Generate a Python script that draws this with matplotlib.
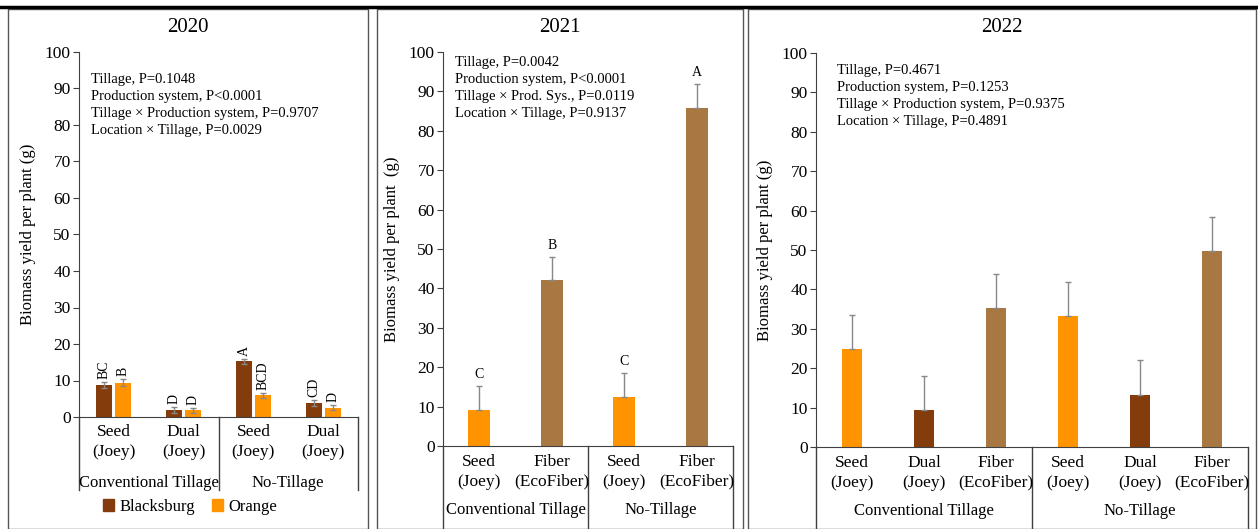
import matplotlib.pyplot as plt
from matplotlib.patches import Rectangle, Patch

plt.rcParams['font.family'] = ['Liberation Serif', 'DejaVu Serif']

W, H = 1258, 529

# 2020 data
cats_2020 = ['Seed\n(Joey)', 'Dual\n(Joey)', 'Seed\n(Joey)', 'Dual\n(Joey)']
bburg_2020 = [8.8, 2.0, 15.3, 3.8]
bburg_err_2020 = [0.9, 0.8, 0.7, 0.8]
bburg_let_2020 = ['BC', 'D', 'A', 'CD']
orange_2020 = [9.4, 1.8, 5.9, 2.6]
orange_err_2020 = [0.9, 0.8, 0.8, 0.8]
orange_let_2020 = ['B', 'D', 'BCD', 'D']
stats_2020 = ['Tillage, P=0.1048', 'Production system, P<0.0001',
              'Tillage \u00d7 Production system, P=0.9707', 'Location \u00d7 Tillage, P=0.0029']

# 2021 data
cats_2021 = ['Seed\n(Joey)', 'Fiber\n(EcoFiber)', 'Seed\n(Joey)', 'Fiber\n(EcoFiber)']
vals_2021 = [9.2, 42.2, 12.5, 85.8]
err_2021 = [6.0, 5.8, 6.0, 6.2]
let_2021 = ['C', 'B', 'C', 'A']
stats_2021 = ['Tillage, P=0.0042', 'Production system, P<0.0001',
              'Tillage \u00d7 Prod. Sys., P=0.0119', 'Location \u00d7 Tillage, P=0.9137']

# 2022 data
cats_2022 = ['Seed\n(Joey)', 'Dual\n(Joey)', 'Fiber\n(EcoFiber)',
             'Seed\n(Joey)', 'Dual\n(Joey)', 'Fiber\n(EcoFiber)']
vals_2022 = [24.8, 9.4, 35.3, 33.2, 13.2, 49.7]
err_2022 = [8.6, 8.6, 8.6, 8.8, 8.8, 8.7]
stats_2022 = ['Tillage, P=0.4671', 'Production system, P=0.1253',
              'Tillage \u00d7 Production system, P=0.9375', 'Location \u00d7 Tillage, P=0.4891']

groups = ['Conventional Tillage', 'No-Tillage']

C_BROWN = '#843C0C'
C_ORANGE = '#FF9300'
C_TAN = '#A97842'
colors_2021 = [C_ORANGE, C_TAN, C_ORANGE, C_TAN]
colors_2022 = [C_ORANGE, C_BROWN, C_TAN, C_ORANGE, C_BROWN, C_TAN]

fig = plt.figure(figsize=(W / 100, H / 100), dpi=100)

# panel frames
for x0, x1 in [(8, 368), (377, 743), (748, 1256)]:
    fig.patches.append(Rectangle((x0 / W, 0), (x1 - x0) / W, 1 - 9 / H,
                                 transform=fig.transFigure, fill=False,
                                 edgecolor='#555555', lw=1.0))
fig.add_artist(plt.Line2D([0, 1], [1 - 7 / H, 1 - 7 / H], color='black', lw=2.5,
                          transform=fig.transFigure))


def make_axes(left, right, top, bottom):
    ax = fig.add_axes([left / W, 1 - bottom / H, (right - left) / W, (bottom - top) / H])
    ax.set_ylim(0, 100)
    ax.set_yticks(range(0, 101, 10))
    for s in ['top', 'right']:
        ax.spines[s].set_visible(False)
    ax.spines['left'].set_color('#404040')
    ax.spines['bottom'].set_color('#404040')
    ax.tick_params(axis='y', labelsize=12.5, length=4, color='#404040', pad=2)
    ax.tick_params(axis='x', length=0, labelbottom=False)
    ax.set_facecolor('none')
    return ax


def category_axis(ax, cats, height_px, depth, lab_off, grp_off):
    n = len(cats)
    ax.set_xlim(-0.5, n - 0.5)
    tr = ax.get_xaxis_transform()
    d = -depth / height_px
    for xv in [-0.5, n / 2 - 0.5, n - 0.5]:
        ax.plot([xv, xv], [0, d], color='#404040', lw=1, transform=tr, clip_on=False)
    for i, c in enumerate(cats):
        ax.annotate(c, xy=(i, 0), xycoords=tr, xytext=(0, -lab_off), textcoords='offset pixels',
                    ha='center', va='top', fontsize=12.5, linespacing=1.3)
    for g, gx in zip(groups, [(n / 2 - 1) / 2, n - 1 - (n / 2 - 1) / 2]):
        ax.annotate(g, xy=(gx, 0), xycoords=tr, xytext=(0, -grp_off), textcoords='offset pixels',
                    ha='center', va='center', fontsize=12)


def stats_text(lines, x_px, y_px):
    fig.text(x_px / W, 1 - y_px / H, '\n'.join(lines), fontsize=10.5,
             va='top', ha='left', linespacing=1.4)


# ---- 2020 ----
ax1 = make_axes(79, 358, 52, 417)
x = list(range(len(cats_2020)))
xb = [i - 0.135 for i in x]
xo = [i + 0.135 for i in x]
ax1.bar(xb, bburg_2020, width=0.23, color=C_BROWN, yerr=bburg_err_2020,
        error_kw=dict(ecolor='#888888', capsize=2, lw=1))
ax1.bar(xo, orange_2020, width=0.23, color=C_ORANGE, yerr=orange_err_2020,
        error_kw=dict(ecolor='#888888', capsize=2, lw=1))
for xs, v, e, l in zip(xb, bburg_2020, bburg_err_2020, bburg_let_2020):
    ax1.text(xs, v + e + 0.8, l, rotation=90, ha='center', va='bottom', fontsize=10)
for xs, v, e, l in zip(xo, orange_2020, orange_err_2020, orange_let_2020):
    ax1.text(xs, v + e + 0.8, l, rotation=90, ha='center', va='bottom', fontsize=10)
ax1.set_ylabel('Biomass yield per plant (g)', fontsize=12, labelpad=6)
category_axis(ax1, cats_2020, 365, 73, 7, 66)
fig.text(0.5 * (8 + 368) / W, 1 - 28 / H, '2020', ha='center', va='center', fontsize=15)
stats_text(stats_2020, 91, 73)
fig.legend(handles=[Patch(color=C_BROWN, label='Blacksburg'), Patch(color=C_ORANGE, label='Orange')],
           loc='center', bbox_to_anchor=(190 / W, 1 - 507 / H), ncol=2, frameon=False,
           fontsize=12, handlelength=0.7, handleheight=0.7, handletextpad=0.3, columnspacing=1.0)

# ---- 2021 ----
ax2 = make_axes(443, 733, 52, 446)
x = list(range(len(cats_2021)))
ax2.bar(x, vals_2021, width=0.3, color=colors_2021, yerr=[[0] * len(x), err_2021],
        error_kw=dict(ecolor='#888888', capsize=2, lw=1))
for xs, v, e, l in zip(x, vals_2021, err_2021, let_2021):
    ax2.text(xs, v + e + 1.2, l, ha='center', va='bottom', fontsize=10)
ax2.set_ylabel('Biomass yield per plant  (g)', fontsize=12, labelpad=6)
category_axis(ax2, cats_2021, 394, 90, 8, 64)
fig.text(0.5 * (377 + 743) / W, 1 - 28 / H, '2021', ha='center', va='center', fontsize=15)
stats_text(stats_2021, 455, 56)

# ---- 2022 ----
ax3 = make_axes(816, 1248, 53, 447)
x = list(range(len(cats_2022)))
ax3.bar(x, vals_2022, width=0.29, color=colors_2022, yerr=[[0] * len(x), err_2022],
        error_kw=dict(ecolor='#888888', capsize=2, lw=1))
ax3.set_ylabel('Biomass yield per plant (g)', fontsize=12, labelpad=6)
category_axis(ax3, cats_2022, 394, 90, 8, 64)
fig.text(0.5 * (748 + 1256) / W, 1 - 28 / H, '2022', ha='center', va='center', fontsize=15)
stats_text(stats_2022, 837, 64)

fig.savefig('out.png', dpi=100)
